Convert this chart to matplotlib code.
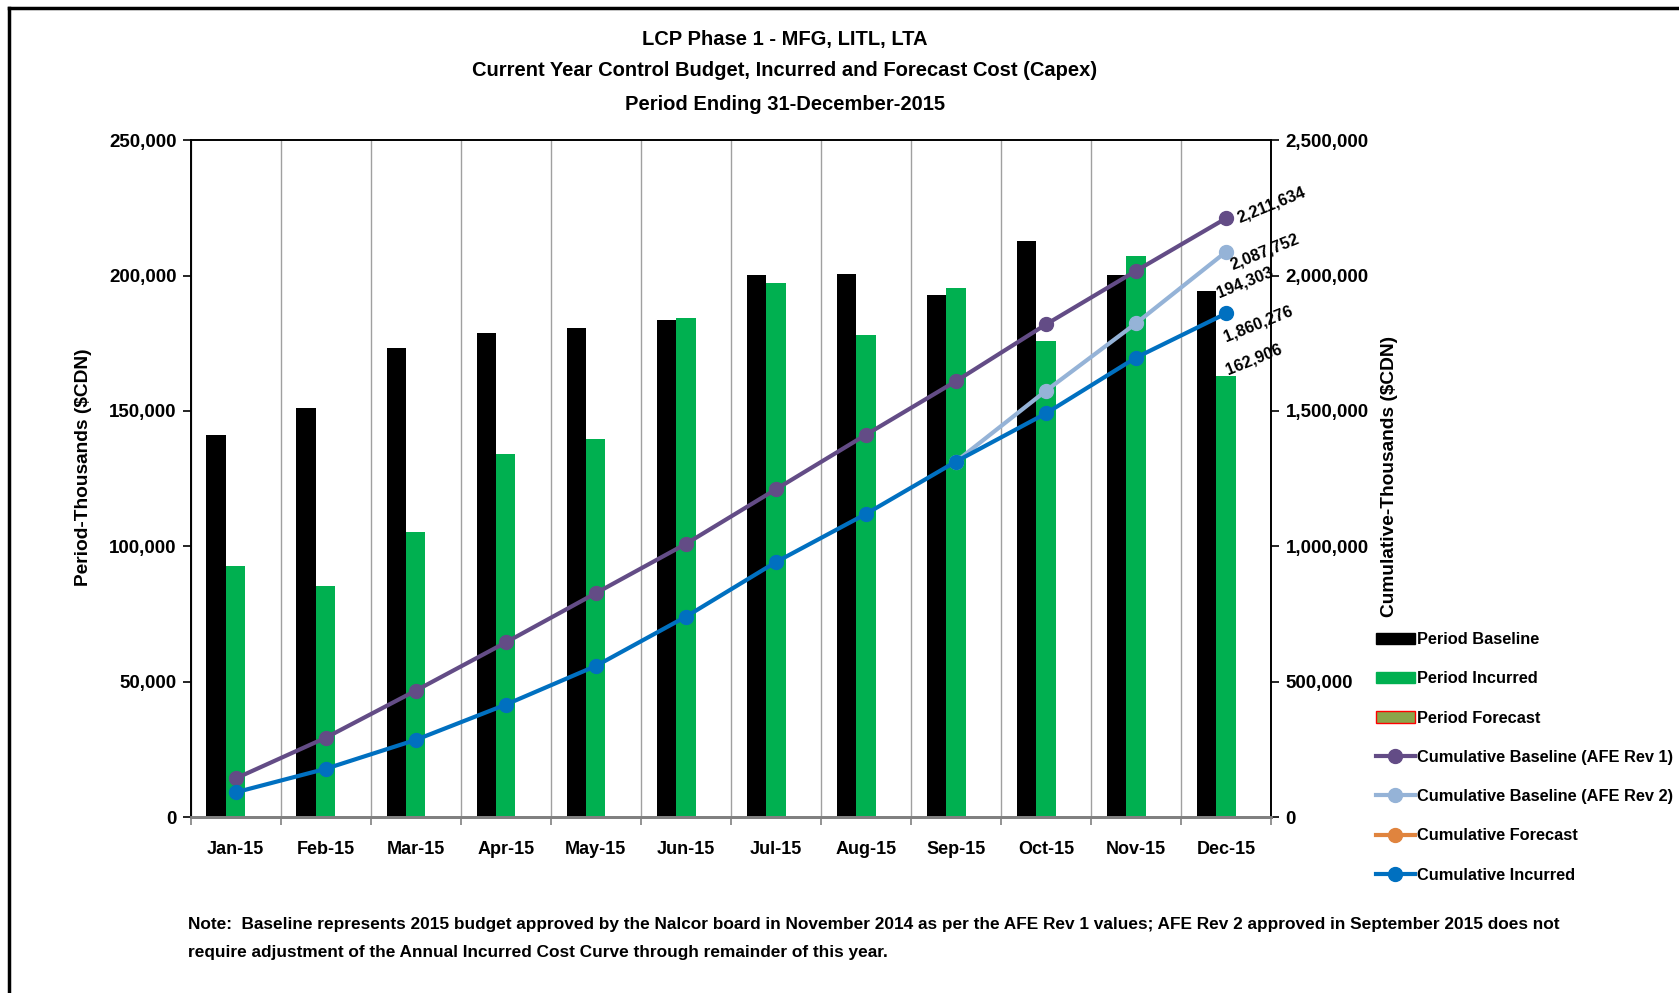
import matplotlib
matplotlib.use("Agg")
import matplotlib.pyplot as plt
from matplotlib.lines import Line2D
from matplotlib.patches import Patch
import numpy as np

plt.rcParams['font.family'] = ['Liberation Sans', 'DejaVu Sans']
plt.rcParams['font.weight'] = 'bold'

months = ["Jan-15", "Feb-15", "Mar-15", "Apr-15", "May-15", "Jun-15",
          "Jul-15", "Aug-15", "Sep-15", "Oct-15", "Nov-15", "Dec-15"]
period_baseline = [141200, 151100, 173300, 178800, 180800, 183600,
                   200200, 200600, 193000, 212800, 200200, 194303]
period_incurred = [92600, 85400, 105200, 134100, 139600, 184300,
                   197400, 178000, 195400, 176000, 207300, 162906]
period_forecast = [0] * 12
cum_baseline_rev1 = [142400, 292700, 466800, 644800, 826800, 1008800,
                     1210500, 1412000, 1610000, 1819800, 2017600, 2211634]
cum_baseline_rev2 = [None] * 8 + [1313000, 1574500, 1823700, 2087752]
cum_incurred = [91000, 178000, 284800, 415000, 557800, 739800,
                941500, 1119500, 1313000, 1491000, 1697000, 1860276]

W, H = 1679, 993
fig = plt.figure(figsize=(W / 100, H / 100), dpi=100)
ax = fig.add_axes([190.6 / W, 1 - 817 / H, (1271 - 190.6) / W, (817 - 140.3) / H])
ax2 = ax.twinx()

x = np.arange(len(months))
bw = 0.216
ax.bar(x - bw, period_baseline, width=bw, color='black', zorder=2)
ax.bar(x, period_incurred, width=bw, color='#00B050', zorder=2)
ax.bar(x + bw, period_forecast, width=bw, color='#8AA64A', edgecolor='red', linewidth=0, zorder=2)

ax.set_xlim(-0.5, 11.5)
ax.set_ylim(0, 250000)
ax2.set_ylim(0, 2500000)
ax.set_xticks(x)
ax.set_xticklabels(months)
ax.set_xticks(np.arange(-0.5, 12, 1), minor=True)
ax.tick_params(axis='x', which='major', length=0, pad=17, labelsize=13)
ax.tick_params(axis='x', which='minor', length=6, color='#808080', width=1.2)
ax.grid(axis='x', which='minor', color='#A0A0A0', linewidth=1.0, zorder=0)
ax.set_yticks(np.arange(0, 250001, 50000))
ax.set_yticklabels([f"{v:,}" for v in range(0, 250001, 50000)])
ax.tick_params(axis='y', length=6, width=1.2, labelsize=13.5, pad=4)
ax2.set_yticks(np.arange(0, 2500001, 500000))
ax2.set_yticklabels([f"{v:,}" for v in range(0, 2500001, 500000)])
ax2.tick_params(axis='y', length=6, width=1.2, labelsize=13.5, pad=4.5)

for a in (ax, ax2):
    a.spines['bottom'].set_color('#808080')
    a.spines['bottom'].set_linewidth(2)
    a.spines['left'].set_linewidth(1.2)
    a.spines['right'].set_linewidth(1.2)
    a.spines['top'].set_linewidth(1.2)

fig.text(83.5 / W, 1 - 467.4 / H, "Period-Thousands ($CDN)", rotation=90,
         ha='center', va='center', fontsize=13.8, fontweight='bold')
fig.text(1390 / W, 1 - 476.5 / H, "Cumulative-Thousands ($CDN)", rotation=90,
         ha='center', va='center', fontsize=13.8, fontweight='bold')

lw, ms = 3, 10
ax2.plot(x, cum_baseline_rev1, color='#634C86', lw=lw, marker='o', ms=ms, zorder=4)
rev2 = np.array([np.nan if v is None else v for v in cum_baseline_rev2], dtype=float)
ax2.plot(x, rev2, color='#95B3D7', lw=lw, marker='o', ms=ms, zorder=4)
ax2.plot(x, cum_incurred, color='#0070C0', lw=lw, marker='o', ms=ms, zorder=5)

rot = 22
lab_kw = dict(rotation=rot, rotation_mode='anchor', fontsize=11.8, fontweight='bold',
              ha='left', va='baseline', textcoords='offset points', annotation_clip=False,
              zorder=6)
ax2.annotate(f"{cum_baseline_rev1[-1]:,}", (x[-1], cum_baseline_rev1[-1]), xytext=(10, -3), **lab_kw)
ax2.annotate(f"{cum_baseline_rev2[-1]:,}", (x[-1], cum_baseline_rev2[-1]), xytext=(5, -13), **lab_kw)
ax2.annotate(f"{cum_incurred[-1]:,}", (x[-1], cum_incurred[-1]), xytext=(0, -20), **lab_kw)
ax.annotate(f"{period_baseline[-1]:,}", (x[-1] - bw, period_baseline[-1]), xytext=(9, -5), **lab_kw)
ax.annotate(f"{period_incurred[-1]:,}", (x[-1], period_incurred[-1]), xytext=(1.5, 1), **lab_kw)

handles = [
    Patch(facecolor='black', edgecolor='black'),
    Patch(facecolor='#00B050', edgecolor='#00B050'),
    Patch(facecolor='#8AA64A', edgecolor='red'),
    Line2D([], [], color='#634C86', lw=lw, marker='o', ms=ms),
    Line2D([], [], color='#95B3D7', lw=lw, marker='o', ms=ms),
    Line2D([], [], color='#E0843E', lw=lw, marker='o', ms=ms),
    Line2D([], [], color='#0070C0', lw=lw, marker='o', ms=ms),
]
labels = ["Period Baseline", "Period Incurred", "Period Forecast",
          "Cumulative Baseline (AFE Rev 1)", "Cumulative Baseline (AFE Rev 2)",
          "Cumulative Forecast", "Cumulative Incurred"]
fig.legend(handles, labels, loc='upper left', bbox_to_anchor=(1376 / W, 1 - 632 / H),
           frameon=False, fontsize=11.8, handlelength=2.35, handletextpad=0.18,
           labelspacing=1.48, borderaxespad=0, borderpad=0)

fig.text(0.4673, 1 - 39 / H, "LCP Phase 1 - MFG, LITL, LTA", ha='center', va='center', fontsize=14.5, fontweight='bold')
fig.text(0.4673, 1 - 71 / H, "Current Year Control Budget, Incurred and Forecast Cost (Capex)", ha='center', va='center', fontsize=14.5, fontweight='bold')
fig.text(0.4673, 1 - 104 / H, "Period Ending 31-December-2015", ha='center', va='center', fontsize=14.5, fontweight='bold')

fig.text(188 / W, 1 - 925 / H,
         "Note:  Baseline represents 2015 budget approved by the Nalcor board in November 2014 as per the AFE Rev 1 values; AFE Rev 2 approved in September 2015 does not",
         ha='left', va='center', fontsize=12.4, fontweight='bold')
fig.text(188 / W, 1 - 953 / H,
         "require adjustment of the Annual Incurred Cost Curve through remainder of this year.",
         ha='left', va='center', fontsize=12.4, fontweight='bold')

fig.add_artist(Line2D([9 / W, 9 / W], [0, 1 - 8 / H], color='black', lw=2.5))
fig.add_artist(Line2D([9 / W, 1], [1 - 8 / H, 1 - 8 / H], color='black', lw=2.5))

fig.savefig("out.png", dpi=100)
